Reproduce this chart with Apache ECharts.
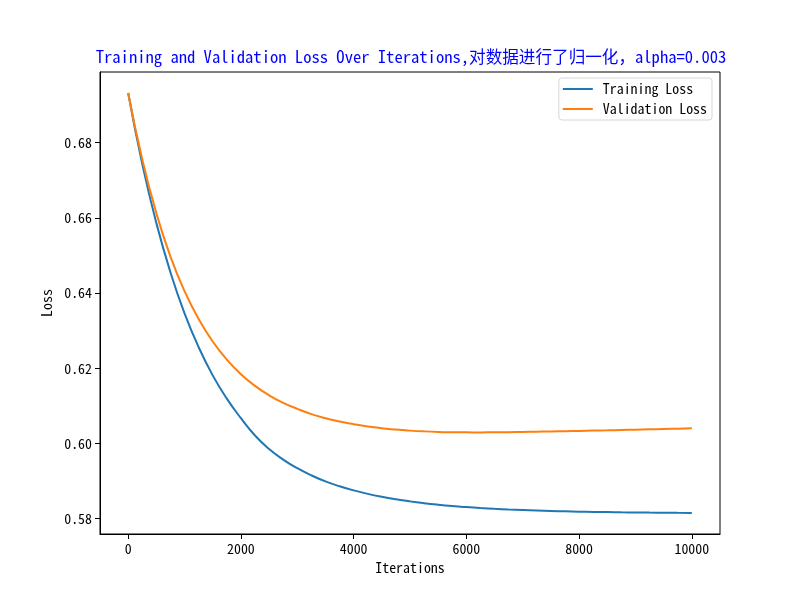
<!DOCTYPE html>
<html>
<head>
<meta charset="utf-8">
<title>Training and Validation Loss</title>
<script src="https://cdn.jsdelivr.net/npm/echarts@6/dist/echarts.min.js"></script>
<style>
  html, body { margin: 0; padding: 0; background: #fff; }
  #chart { width: 800px; height: 600px; }
</style>
</head>
<body>
<div id="chart"></div>
<script>
// 数值是从原图上逐点估读的（每 250 次迭代一个点）
const iterations = [0, 250, 500, 750, 1000, 1250, 1500, 1750, 2000, 2250, 2500, 2750,
  3000, 3250, 3500, 3750, 4000, 4250, 4500, 4750, 5000, 5250, 5500, 5750, 6000, 6250,
  6500, 6750, 7000, 7250, 7500, 7750, 8000, 8250, 8500, 8750, 9000, 9250, 9500, 9750, 10000];
const trainLoss = [0.6932, 0.6743, 0.6586, 0.6455, 0.6346, 0.6256, 0.6181, 0.6119, 0.6067,
  0.6021, 0.5985, 0.5957, 0.5934, 0.5915, 0.5899, 0.5886,
  0.58750, 0.58658, 0.58580, 0.58514, 0.58458, 0.58410, 0.58369, 0.58334, 0.58305,
  0.58280, 0.58259, 0.58241, 0.58226, 0.58213, 0.58202, 0.58193, 0.58185, 0.58178,
  0.58172, 0.58167, 0.58163, 0.58159, 0.58156, 0.58153, 0.58151];
const valLoss = [0.6932, 0.6755, 0.6612, 0.6497, 0.6405, 0.6331, 0.6271, 0.6223, 0.6184,
  0.6153, 0.6128, 0.6108, 0.6092, 0.6078, 0.6067, 0.6058,
  0.60510, 0.60450, 0.60403, 0.60367, 0.60340, 0.60320, 0.60306, 0.60298, 0.60294,
  0.60293, 0.60295, 0.60299, 0.60304, 0.60310, 0.60317, 0.60324, 0.60332, 0.60340,
  0.60348, 0.60357, 0.60365, 0.60374, 0.60383, 0.60392, 0.60401];
const xTicks = [0, 2000, 4000, 6000, 8000, 10000];
const yTicks = [0.58, 0.60, 0.62, 0.64, 0.66, 0.68];

const FONT = '"Noto Sans Mono CJK SC", "Noto Sans CJK SC", monospace';
// 图例里只画一条短线
const LINE_ICON = 'path://M0,0 L30,0 L30,2 L0,2 Z';

const chart = echarts.init(document.getElementById('chart'));

chart.setOption({
  backgroundColor: '#fff',
  animation: false,
  title: {
    text: 'Training and Validation Loss Over Iterations,对数据进行了归一化，alpha=0.003',
    left: 406,
    textAlign: 'center',
    top: 43,
    textStyle: { color: '#0000ff', fontFamily: FONT, fontSize: 16.6, fontWeight: 'normal' },
  },
  legend: {
    orient: 'vertical',
    right: 88,
    top: 78,
    padding: [4, 5, 4, 4],
    itemWidth: 30,
    itemHeight: 2,
    itemGap: 6,
    borderColor: '#d6d6d6',
    borderWidth: 1,
    borderRadius: 3,
    backgroundColor: 'rgba(255,255,255,0.8)',
    textStyle: { color: '#000', fontFamily: FONT, fontSize: 13.9, padding: [0, 0, 0, 5], lineHeight: 14 },
    data: [
      { name: 'Training Loss', icon: LINE_ICON },
      { name: 'Validation Loss', icon: LINE_ICON },
    ],
  },
  grid: {
    left: 100, right: 80, top: 72, bottom: 66,
    show: true, borderColor: '#000', borderWidth: 1,
  },
  xAxis: {
    type: 'value',
    min: -500,
    max: 10500,
    name: 'Iterations',
    nameLocation: 'middle',
    nameGap: 23,
    nameTextStyle: { color: '#000', fontFamily: FONT, fontSize: 13.9 },
    axisLine: { show: true, onZero: false, lineStyle: { color: '#000', width: 1 } },
    axisTick: { show: true, inside: false, length: 5, customValues: xTicks, lineStyle: { color: '#000' } },
    axisLabel: {
      margin: 8, customValues: xTicks, color: '#000', fontFamily: FONT, fontSize: 13.9,
      formatter: v => String(v),
    },
    splitLine: { show: false },
  },
  yAxis: {
    type: 'value',
    min: 0.5759,
    max: 0.6988,
    name: 'Loss',
    nameLocation: 'middle',
    nameGap: 44,
    nameTextStyle: { color: '#000', fontFamily: FONT, fontSize: 13.9 },
    axisLine: { show: true, onZero: false, lineStyle: { color: '#000', width: 1 } },
    axisTick: { show: true, inside: false, length: 5, customValues: yTicks, lineStyle: { color: '#000' } },
    axisLabel: {
      margin: 8, customValues: yTicks, color: '#000', fontFamily: FONT, fontSize: 13.9,
      formatter: v => v.toFixed(2),
    },
    splitLine: { show: false },
  },
  series: [
    {
      name: 'Training Loss',
      type: 'line',
      data: iterations.map((it, i) => [it, trainLoss[i]]),
      smooth: 0.5,
      symbol: 'none',
      lineStyle: { color: '#1f77b4', width: 2 },
      itemStyle: { color: '#1f77b4' },
    },
    {
      name: 'Validation Loss',
      type: 'line',
      data: iterations.map((it, i) => [it, valLoss[i]]),
      smooth: 0.5,
      symbol: 'none',
      lineStyle: { color: '#ff7f0e', width: 2 },
      itemStyle: { color: '#ff7f0e' },
    },
  ],
});
</script>
</body>
</html>
